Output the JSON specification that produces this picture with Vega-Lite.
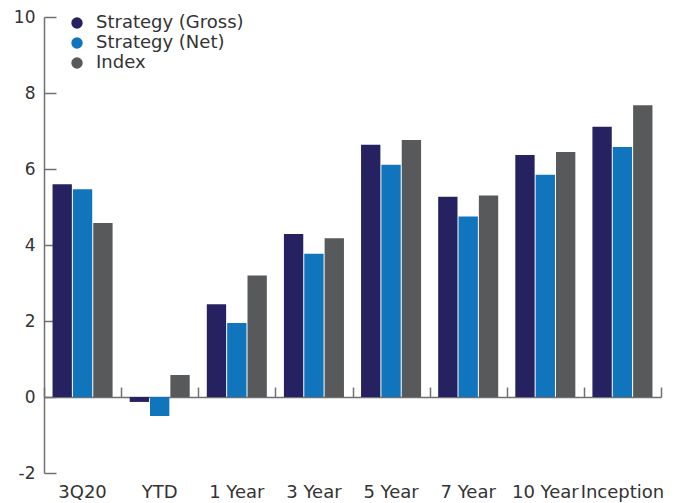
{
  "$schema": "https://vega.github.io/schema/vega-lite/v6.json",
  "width": 617,
  "height": 456,
  "autosize": {"type": "none"},
  "padding": {"left": 44, "top": 17, "right": 14, "bottom": 30},
  "background": "white",
  "config": {"view": {"stroke": null}, "font": "DejaVu Sans"},
  "data": {
    "values": [
      {"category": "3Q20", "series": "Strategy (Gross)", "value": 5.6},
      {"category": "3Q20", "series": "Strategy (Net)", "value": 5.47},
      {"category": "3Q20", "series": "Index", "value": 4.58},
      {"category": "YTD", "series": "Strategy (Gross)", "value": -0.13},
      {"category": "YTD", "series": "Strategy (Net)", "value": -0.5},
      {"category": "YTD", "series": "Index", "value": 0.58},
      {"category": "1 Year", "series": "Strategy (Gross)", "value": 2.44},
      {"category": "1 Year", "series": "Strategy (Net)", "value": 1.95},
      {"category": "1 Year", "series": "Index", "value": 3.2},
      {"category": "3 Year", "series": "Strategy (Gross)", "value": 4.29},
      {"category": "3 Year", "series": "Strategy (Net)", "value": 3.77},
      {"category": "3 Year", "series": "Index", "value": 4.18},
      {"category": "5 Year", "series": "Strategy (Gross)", "value": 6.64},
      {"category": "5 Year", "series": "Strategy (Net)", "value": 6.11},
      {"category": "5 Year", "series": "Index", "value": 6.76},
      {"category": "7 Year", "series": "Strategy (Gross)", "value": 5.27},
      {"category": "7 Year", "series": "Strategy (Net)", "value": 4.75},
      {"category": "7 Year", "series": "Index", "value": 5.3},
      {"category": "10 Year", "series": "Strategy (Gross)", "value": 6.37},
      {"category": "10 Year", "series": "Strategy (Net)", "value": 5.85},
      {"category": "10 Year", "series": "Index", "value": 6.45},
      {"category": "Inception", "series": "Strategy (Gross)", "value": 7.11},
      {"category": "Inception", "series": "Strategy (Net)", "value": 6.58},
      {"category": "Inception", "series": "Index", "value": 7.68}
    ]
  },
  "resolve": {"axis": {"x": "independent"}},
  "layer": [
    {
      "mark": {"type": "bar"},
      "encoding": {
        "x": {
          "field": "category",
          "type": "nominal",
          "sort": ["3Q20", "YTD", "1 Year", "3 Year", "5 Year", "7 Year", "10 Year", "Inception"],
          "scale": {"paddingInner": 0, "paddingOuter": 0},
          "axis": {"title": null, "orient": "bottom", "domain": false, "ticks": false, "labelAngle": 0, "labelFontSize": 18, "labelColor": "#333333", "labelPadding": 10, "labelOverlap": false}
        },
        "xOffset": {
          "field": "series",
          "type": "nominal",
          "sort": ["Strategy (Gross)", "Strategy (Net)", "Index"],
          "scale": {"paddingInner": 0.05, "paddingOuter": 0.42}
        },
        "y": {
          "field": "value",
          "type": "quantitative",
          "scale": {"domain": [-2, 10], "nice": false},
          "axis": {"title": null, "values": [-2, 0, 2, 4, 6, 8, 10], "labelExpr": "'' + datum.value", "grid": false, "domainColor": "#707070", "domainWidth": 1.5, "tickColor": "#707070", "tickWidth": 1.5, "tickSize": -12, "labelFontSize": 17, "labelColor": "#333333", "labelPadding": 21}
        },
        "color": {
          "field": "series",
          "type": "nominal",
          "scale": {"domain": ["Strategy (Gross)", "Strategy (Net)", "Index"], "range": ["#262262", "#1075BD", "#58595B"]},
          "legend": {"title": null, "orient": "none", "legendX": 24, "legendY": -3, "padding": 0, "symbolType": "circle", "symbolSize": 130, "labelFontSize": 18, "labelColor": "#333333", "labelOffset": 10, "rowPadding": 2}
        }
      }
    },
    {
      "mark": {"type": "point", "opacity": 0},
      "encoding": {
        "x": {
          "field": "category",
          "type": "nominal",
          "sort": ["3Q20", "YTD", "1 Year", "3 Year", "5 Year", "7 Year", "10 Year", "Inception"],
          "axis": {"title": null, "orient": "bottom", "labels": false, "offset": -76, "tickBand": "extent", "tickSize": -10, "tickWidth": 1.5, "domainColor": "#707070", "tickColor": "#707070", "domainWidth": 1.5}
        }
      }
    }
  ]
}
